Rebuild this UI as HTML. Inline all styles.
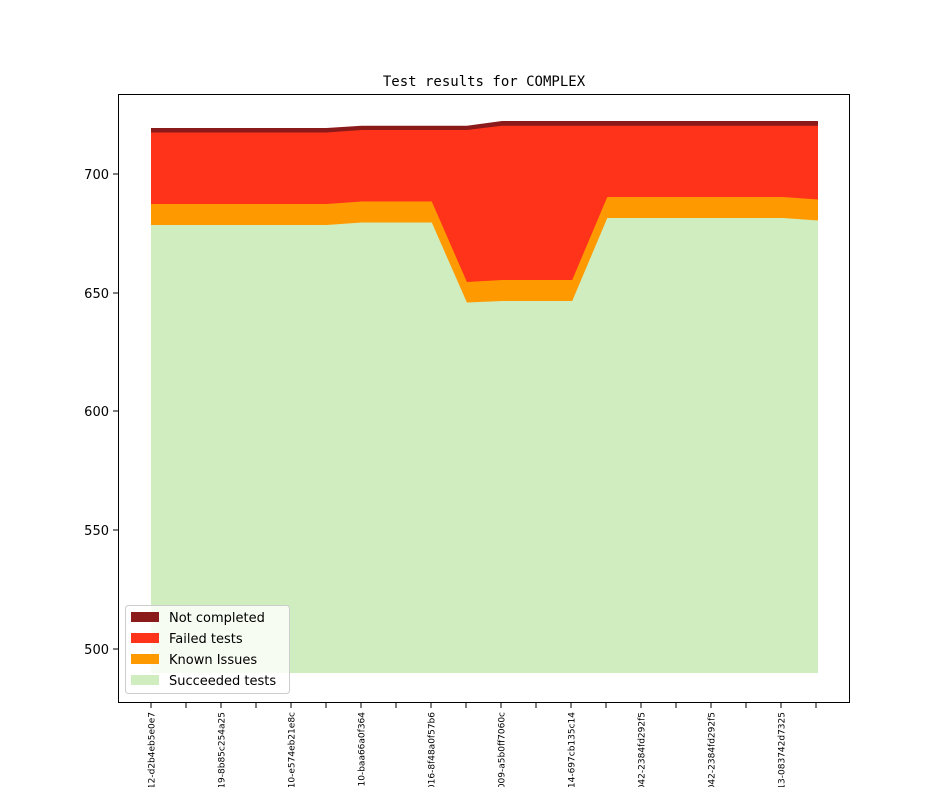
<!DOCTYPE html>
<html><head><meta charset="utf-8"><style>body{margin:0;background:#fff}svg{display:block}</style></head>
<body>
<svg width="944" height="787" xmlns="http://www.w3.org/2000/svg" font-family="DejaVu Sans, Liberation Sans, sans-serif">
<rect width="944" height="787" fill="#fff"/>
<text x="484" y="86" text-anchor="middle" font-family="DejaVu Sans Mono, Liberation Mono, monospace" font-size="14">Test results for COMPLEX</text>
<polygon fill="#8b1a1a" points="151,128 326.5,128 361.6,125.7 396.7,125.7 431.8,125.7 466.9,125.7 502,121 818,121 818,673 151,673"/>
<polygon fill="#ff331a" points="151,132.5 326.5,132.5 361.6,130 431.8,130 466.9,130 502,125.7 818,125.7 818,673 151,673"/>
<polygon fill="#ff9900" points="151,204 326.5,204 361.6,201.5 431.8,201.5 466.9,282 502,280 572.2,280 607.3,197 783,197 818,199.5 818,673 151,673"/>
<polygon fill="#cfedbf" points="151,225 326.5,225 361.6,222.5 431.8,222.5 466.9,302.5 502,301 572.2,301 607.3,218 783,218 818,220.5 818,673 151,673"/>
<rect x="118.5" y="94.5" width="731" height="608" fill="none" stroke="#000" stroke-width="1"/>
<g font-size="13" text-anchor="end">
<line x1="113" y1="174" x2="118" y2="174" stroke="#000"/><text x="109" y="179">700</text>
<line x1="113" y1="293" x2="118" y2="293" stroke="#000"/><text x="109" y="298">650</text>
<line x1="113" y1="411" x2="118" y2="411" stroke="#000"/><text x="109" y="416">600</text>
<line x1="113" y1="530" x2="118" y2="530" stroke="#000"/><text x="109" y="535">550</text>
<line x1="113" y1="649" x2="118" y2="649" stroke="#000"/><text x="109" y="654">500</text>
</g>
<g stroke="#000">
<line x1="151" y1="703" x2="151" y2="708"/><line x1="186" y1="703" x2="186" y2="708"/><line x1="221" y1="703" x2="221" y2="708"/><line x1="256" y1="703" x2="256" y2="708"/><line x1="291" y1="703" x2="291" y2="708"/><line x1="326" y1="703" x2="326" y2="708"/><line x1="361" y1="703" x2="361" y2="708"/><line x1="396" y1="703" x2="396" y2="708"/><line x1="431" y1="703" x2="431" y2="708"/><line x1="466" y1="703" x2="466" y2="708"/><line x1="501" y1="703" x2="501" y2="708"/><line x1="536" y1="703" x2="536" y2="708"/><line x1="571" y1="703" x2="571" y2="708"/><line x1="606" y1="703" x2="606" y2="708"/><line x1="641" y1="703" x2="641" y2="708"/><line x1="676" y1="703" x2="676" y2="708"/><line x1="711" y1="703" x2="711" y2="708"/><line x1="746" y1="703" x2="746" y2="708"/><line x1="781" y1="703" x2="781" y2="708"/><line x1="816" y1="703" x2="816" y2="708"/>
</g>
<g font-size="9" text-anchor="end">
<text transform="translate(154.5,712) rotate(-90)">2012-d2b4eb5e0e7</text>
<text transform="translate(224.5,712) rotate(-90)">2019-8b85c254a25</text>
<text transform="translate(294.5,712) rotate(-90)">2010-e574eb21e8c</text>
<text transform="translate(364.5,712) rotate(-90)">2010-baa66a0f364</text>
<text transform="translate(434.5,712) rotate(-90)">2016-8f48a0f57b6</text>
<text transform="translate(504.5,712) rotate(-90)">2009-a5b0ff7060c</text>
<text transform="translate(574.5,712) rotate(-90)">2014-697cb135c14</text>
<text transform="translate(644.5,712) rotate(-90)">2042-2384fd292f5</text>
<text transform="translate(714.5,712) rotate(-90)">2042-2384fd292f5</text>
<text transform="translate(784.5,712) rotate(-90)">2013-083742d7325</text>
</g>
<rect x="125.5" y="605.5" width="164" height="88" rx="3" fill="#fff" fill-opacity="0.8" stroke="#ccc"/>
<g font-size="13">
<rect x="131" y="612" width="28" height="10" fill="#8b1a1a"/><text x="169" y="622">Not completed</text>
<rect x="131" y="633" width="28" height="10" fill="#ff331a"/><text x="169" y="643">Failed tests</text>
<rect x="131" y="654" width="28" height="10" fill="#ff9900"/><text x="169" y="664">Known Issues</text>
<rect x="131" y="675" width="28" height="10" fill="#cfedbf"/><text x="169" y="685">Succeeded tests</text>
</g>
</svg>
</body></html>
